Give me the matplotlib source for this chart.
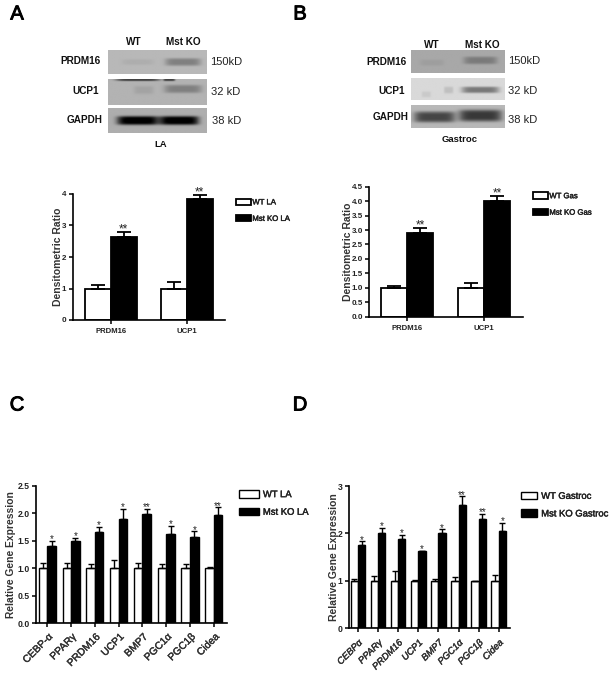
import numpy as np
import matplotlib
matplotlib.use("Agg")
import matplotlib.pyplot as plt
import matplotlib.patheffects as pe

W, H = 612, 678

plt.rcParams["font.family"] = ["Liberation Sans", "DejaVu Sans"]

# panel A
a_genes = ["PRDM16", "UCP1"]
a_wt = [1.0, 1.0]
a_wt_err = [0.10, 0.22]
a_ko = [2.65, 3.85]
a_ko_err = [0.15, 0.13]
a_stars = ["**", "**"]
a_ticks = [0, 1, 2, 3, 4]

# panel B
b_genes = ["PRDM16", "UCP1"]
b_wt = [1.0, 1.0]
b_wt_err = [0.05, 0.18]
b_ko = [2.9, 4.0]
b_ko_err = [0.18, 0.18]
b_stars = ["**", "**"]
b_ticks = [0.0, 0.5, 1.0, 1.5, 2.0, 2.5, 3.0, 3.5, 4.0, 4.5]

# panel C
c_genes = ["CEBP-α", "PPARγ", "PRDM16", "UCP1", "BMP7", "PGC1α", "PGC1β", "Cidea"]
c_wt = [1, 1, 1, 1, 1, 1, 1, 1]
c_wt_err = [0.10, 0.10, 0.08, 0.15, 0.09, 0.07, 0.08, 0.03]
c_ko = [1.40, 1.49, 1.66, 1.89, 1.99, 1.62, 1.57, 1.96]
c_ko_err = [0.10, 0.06, 0.09, 0.19, 0.09, 0.15, 0.10, 0.15]
c_stars = ["*", "*", "*", "*", "**", "*", "*", "**"]
c_ticks = [0.0, 0.5, 1.0, 1.5, 2.0, 2.5]

# panel D
d_genes = ["CEBPα", "PPARγ", "PRDM16", "UCP1", "BMP7", "PGC1α", "PGC1β", "Cidea"]
d_wt = [1, 1, 1, 1, 1, 1, 1, 1]
d_wt_err = [0.04, 0.10, 0.20, 0.01, 0.04, 0.08, 0.0, 0.13]
d_ko = [1.76, 2.00, 1.88, 1.62, 2.00, 2.60, 2.30, 2.06]
d_ko_err = [0.07, 0.12, 0.09, 0.02, 0.09, 0.18, 0.12, 0.16]
d_stars = ["*", "*", "*", "*", "*", "**", "**", "*"]
d_ticks = [0, 1, 2, 3]

# blot bands: x centre, y centre, half width, half height, darkness (fractions of the strip)
a_prdm = [(0.76, 0.50, 0.18, 0.16, 0.22), (0.30, 0.50, 0.16, 0.12, 0.04)]
a_ucp = [(0.76, 0.38, 0.19, 0.16, 0.20), (0.36, 0.42, 0.10, 0.16, 0.06), (0.30, 0.02, 0.22, 0.05, 0.45), (0.62, 0.02, 0.06, 0.05, 0.45)]
a_gapdh = [(0.30, 0.50, 0.21, 0.18, 0.72), (0.72, 0.50, 0.20, 0.18, 0.72)]
b_prdm = [(0.74, 0.45, 0.18, 0.17, 0.18), (0.22, 0.55, 0.13, 0.14, 0.04)]
b_ucp = [(0.74, 0.54, 0.20, 0.15, 0.38), (0.40, 0.55, 0.05, 0.16, 0.10), (0.16, 0.75, 0.05, 0.14, 0.06)]
b_gapdh = [(0.25, 0.52, 0.22, 0.24, 0.45), (0.74, 0.46, 0.23, 0.26, 0.50)]


def px_axes(fig, x0, x1, y_bottom, y_top):
    return fig.add_axes([x0 / W, 1 - y_bottom / H, (x1 - x0) / W, (y_bottom - y_top) / H])


def draw_blot(ov, x0, x1, y0, y1, bg, bands):
    xx, yy = np.meshgrid(np.linspace(0, 1, 120), np.linspace(0, 1, 40))
    img = np.full(xx.shape, bg, dtype=float)
    for cx, cy, hw, hh, dark in bands:
        img -= dark * np.exp(-((xx - cx) / hw) ** 6 - ((yy - cy) / hh) ** 4)
    ov.imshow(np.clip(img, 0, 1), cmap="gray", vmin=0, vmax=1, extent=(x0, x1, y1, y0),
              aspect="auto", interpolation="bilinear")


def bar_panel(fig, box, xlim, ylim, genes, wt, wt_err, ko, ko_err, stars, ticks, width,
              ylabel, fmt, leg_labels, leg_pos, sizes, rotate=False, italic=False):
    ax = px_axes(fig, *box)
    ax.patch.set_alpha(0)
    x = np.arange(len(genes))
    lw = sizes["lw"]
    ax.bar(x - width / 2, wt, width, color="white", edgecolor="black", linewidth=lw, label=leg_labels[0])
    ax.bar(x + width / 2, ko, width, color="black", edgecolor="black", linewidth=lw, label=leg_labels[1])
    cap = sizes["cap"]
    ax.errorbar(x - width / 2, wt, yerr=[np.zeros(len(wt)), wt_err], fmt="none", ecolor="black",
                elinewidth=lw, capsize=cap, capthick=lw)
    ax.errorbar(x + width / 2, ko, yerr=[np.zeros(len(ko)), ko_err], fmt="none", ecolor="black",
                elinewidth=lw, capsize=cap, capthick=lw)
    for xi, k, e, s in zip(x, ko, ko_err, stars):
        ax.annotate(s, (xi + width / 2, k + e), xytext=(0, -2.5), textcoords="offset points",
                    ha="center", va="bottom", fontsize=sizes["star"], color="#222222")
    ax.set_xlim(*xlim)
    ax.set_ylim(*ylim)
    ax.set_yticks(ticks)
    ax.set_yticklabels([fmt.format(t) for t in ticks], fontsize=sizes["ytick"], fontweight="bold", color="#222222")
    ax.set_xticks(x)
    if rotate:
        ax.set_xticklabels(genes, rotation=45, ha="right", rotation_mode="anchor",
                           fontsize=sizes["xtick"], color="#333333",
                           fontstyle="italic" if italic else "normal",
                           path_effects=[pe.withStroke(linewidth=0.3, foreground="#333333")])
    else:
        ax.set_xticklabels(genes, fontsize=sizes["xtick"], fontweight="bold", color="#222222")
    ax.set_ylabel(ylabel, fontsize=sizes["ylabel"], fontweight="bold", color="#333333", labelpad=sizes["pad"])
    ax.spines["top"].set_visible(False)
    ax.spines["right"].set_visible(False)
    ax.spines["left"].set_linewidth(1.2)
    ax.spines["bottom"].set_linewidth(1.2)
    ax.tick_params(axis="y", width=1.1, length=3, pad=1.5)
    ax.tick_params(axis="x", width=1.1, length=3, pad=sizes["xpad"])
    leg = ax.legend(loc="upper left", bbox_to_anchor=(leg_pos[0] / W, 1 - leg_pos[1] / H),
                    bbox_transform=fig.transFigure, frameon=False, borderpad=0, borderaxespad=0,
                    handlelength=sizes["hl"], handleheight=sizes["hh"], handletextpad=sizes["htp"],
                    labelspacing=sizes["ls"], prop={"size": sizes["leg"]})
    for t in leg.get_texts():
        t.set_color("#222222")
        t.set_path_effects([pe.withStroke(linewidth=0.3, foreground="#222222")])
    return ax


fig = plt.figure(figsize=(W / 100, H / 100), dpi=100, facecolor="white")

ov = fig.add_axes([0, 0, 1, 1])
ov.axis("off")

draw_blot(ov, 108, 207, 50, 74, 0.72, a_prdm)
draw_blot(ov, 108, 207, 79, 105, 0.70, a_ucp)
draw_blot(ov, 108, 207, 108, 133, 0.68, a_gapdh)
draw_blot(ov, 411, 505, 50, 73, 0.66, b_prdm)
draw_blot(ov, 411, 505, 78, 100, 0.85, b_ucp)
draw_blot(ov, 411, 505, 105, 128, 0.72, b_gapdh)
ov.set_xlim(0, W)
ov.set_ylim(H, 0)


def label(x, y, s, size=7.2, weight="bold", ha="center", color="#111111", **kw):
    return ov.text(x, y, s, fontsize=size, fontweight=weight, ha=ha, va="center", color=color, **kw)


# panel letters
for x, y, s in [(17, 14, "A"), (300, 14, "B"), (17, 405, "C"), (300, 405, "D")]:
    t = label(x, y, s, size=14.5, weight="normal", color="black")
    t.set_path_effects([pe.withStroke(linewidth=0.7, foreground="black")])

# blot text A
label(134, 42, "WT")
label(183, 42, "Mst KO")
label(80.5, 61, "PRDM16")
label(86, 91.5, "UCP1")
label(84.5, 120, "GAPDH")
label(161, 144.5, "LA", size=6.8)
label(210, 62, "150kD", size=8, weight="normal", ha="left", color="#222222")
label(211, 92, "32 kD", size=8, weight="normal", ha="left", color="#222222")
label(212, 121, "38 kD", size=8, weight="normal", ha="left", color="#222222")

# blot text B
label(432, 45, "WT")
label(482, 45, "Mst KO")
label(386.5, 62, "PRDM16")
label(392, 91, "UCP1")
label(391, 117.5, "GAPDH")
label(460, 139.5, "Gastroc", size=6.8)
label(508, 61, "150kD", size=8, weight="normal", ha="left", color="#222222")
label(508, 91, "32 kD", size=8, weight="normal", ha="left", color="#222222")
label(508, 120, "38 kD", size=8, weight="normal", ha="left", color="#222222")

small = {"lw": 1.3, "cap": 5, "star": 8.5, "ytick": 5.8, "xtick": 5.6, "ylabel": 7.5, "pad": -0.9, "xpad": 3,
         "hl": 1.9, "hh": 0.9, "htp": 0.2, "ls": 1.1, "leg": 5.6}
wide_c = {"lw": 1.0, "cap": 2.0, "star": 7, "ytick": 6.2, "xtick": 7.4, "ylabel": 7.4, "pad": 1.0, "xpad": 3,
          "hl": 2.1, "hh": 0.88, "htp": 0.4, "ls": 0.9, "leg": 6.8}
wide_d = dict(wide_c, xtick=6.8, xpad=4, ylabel=7.5, hl=1.77, pad=-0.9)

bar_panel(fig, (72.7, 225, 320, 194), (-0.5, 1.5), (0, 4), a_genes, a_wt, a_wt_err, a_ko, a_ko_err,
          a_stars, a_ticks, 0.338, "Densitometric Ratio", "{:d}", ["WT LA", "Mst KO LA"], (236, 198.5), small)
bar_panel(fig, (369.3, 523, 316.7, 186.7), (-0.494, 1.503), (0, 4.5), b_genes, b_wt, b_wt_err, b_ko, b_ko_err,
          b_stars, b_ticks, 0.338, "Densitometric Ratio", "{:.1f}", ["WT Gas", "Mst KO Gas"], (533, 192.3), small)
bar_panel(fig, (36, 226.7, 623.3, 485.7), (-0.475, 7.54), (0, 2.5), c_genes, c_wt, c_wt_err, c_ko, c_ko_err,
          c_stars, c_ticks, 0.36, "Relative Gene Expression", "{:.1f}", ["WT LA", "Mst KO LA"], (239.3, 490), wide_c,
          rotate=True)
bar_panel(fig, (348.7, 510, 628.3, 486), (-0.46, 7.56), (0, 3), d_genes, d_wt, d_wt_err, d_ko, d_ko_err,
          d_stars, d_ticks, 0.36, "Relative Gene Expression", "{:d}", ["WT Gastroc", "Mst KO Gastroc"], (520.7, 491.7), wide_d,
          rotate=True, italic=True)

fig.savefig("out.png", dpi=100)
